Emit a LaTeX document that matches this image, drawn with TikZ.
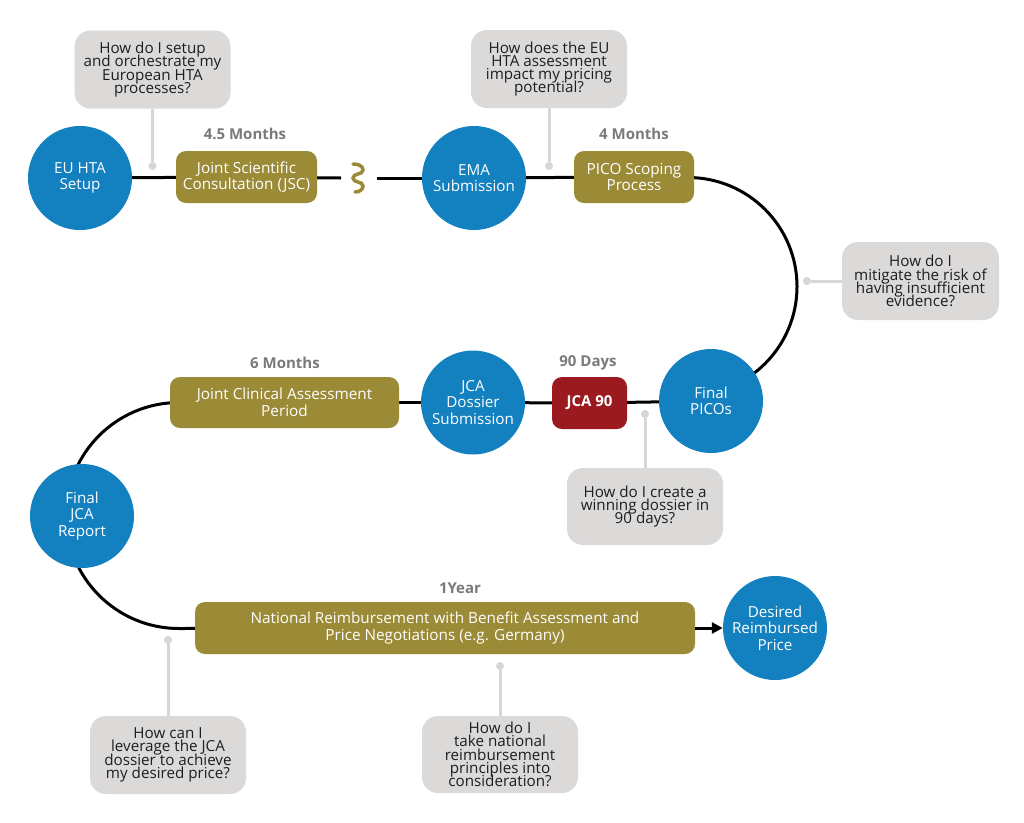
\documentclass[tikz,border=0pt]{standalone}
\usepackage{fontspec}
\setmainfont{Open Sans}
\usetikzlibrary{arrows.meta}
\definecolor{cblue}{HTML}{1380BF}
\definecolor{colive}{HTML}{9B8A36}
\definecolor{cred}{HTML}{9A1A1F}
\definecolor{cqbox}{HTML}{DCDAD9}
\definecolor{cstem}{HTML}{D6D6D6}
\definecolor{clabel}{HTML}{7A7A7A}
\definecolor{cqtext}{HTML}{1E1E1E}
\pgfdeclarelayer{bg}
\pgfsetlayers{bg,main}
\newcommand{\tightfont}[2]{\fontsize{#1}{#2}\selectfont\lineskiplimit=-100pt\relax}
\begin{document}
\begin{tikzpicture}[x=1pt,y=-1pt,
  milestone/.style={circle, fill=cblue, minimum size=104pt, inner sep=0pt, text=white, align=center, font=\tightfont{15.2}{16.5}},
  phase/.style={rectangle, rounded corners=10pt, fill=colive, text=white, align=center, inner sep=0pt, font=\tightfont{15.3}{16.8}},
  question/.style={rectangle, rounded corners=16pt, fill=cqbox, text=cqtext, align=center, inner sep=0pt, font=\tightfont{15.2}{13.3}},
  duration/.style={text=clabel, font=\bfseries\tightfont{15}{16}},
  flow/.style={line width=3pt, black},
  stem/.style={line width=3pt, cstem},
  dot/.style={circle, fill=cstem, minimum size=8pt, inner sep=0pt},
  ]
\useasboundingbox (0,0) rectangle (1024,822);

% milestones
\node[milestone] (setup) at (80,178) {EU HTA\\Setup};
\node[milestone] (ema) at (474,178) {EMA\\Submission};
\node[milestone] (picos) at (711,401) {Final\\PICOs};
\node[milestone] (dossier) at (473,402.5) {JCA\\Dossier\\Submission};
\node[milestone] (report) at (82,516) {Final\\JCA\\Report};
\node[milestone] (desired) at (775,628) {Desired\\Reimbursed\\Price};

% phases
\node[phase, minimum width=141pt, minimum height=52pt] (jsc) at (246.5,177) {Joint Scientific\\Consultation (JSC)};
\node[phase, minimum width=120pt, minimum height=52pt] (pico) at (634,177) {PICO Scoping\\Process};
\node[phase, minimum width=229pt, minimum height=51pt] (jcap) at (284.5,402.5) {Joint Clinical Assessment\\Period};
\node[phase, fill=cred, font=\bfseries\tightfont{15}{16.5}, minimum width=75pt, minimum height=52pt] (jca90) at (589.5,403) {JCA 90};
\node[phase, minimum width=500pt, minimum height=52pt] (national) at (445,628) {National Reimbursement with Benefit Assessment and\\Price Negotiations (e.g. Germany)};

% durations
\node[duration] (l1) at (245,134) {4.5 Months};
\node[duration] (l2) at (634,134) {4 Months};
\node[duration] (l3) at (285,363) {6 Months};
\node[duration] (l4) at (588,363) {90 Days};
\node[duration] (l5) at (460,588) {1Year};

% questions
\node[question, minimum width=156pt, minimum height=78pt] (q1) at (152.5,69.5) {How do I setup\\and orchestrate my\\European HTA\\processes?};
\node[question, minimum width=156pt, minimum height=78pt] (q2) at (549,69) {How does the EU\\HTA assessment\\impact my pricing\\potential?};
\node[question, minimum width=157pt, minimum height=78pt] (q3) at (920.5,281) {How do I\\mitigate the risk of\\having insufficient\\evidence?};
\node[question, minimum width=156pt, minimum height=77pt] (q4) at (645,506.5) {How do I create a\\winning dossier in\\90 days?};
\node[question, minimum width=156pt, minimum height=78pt] (q5) at (168,755) {How can I\\leverage the JCA\\dossier to achieve\\my desired price?};
\node[question, minimum width=156pt, minimum height=77pt] (q6) at (500,754.5) {How do I\\take national\\reimbursement\\principles into\\consideration?};

% stem dots
\node[dot] (d1) at (152.5,166) {};
\node[dot] (d2) at (549,166) {};
\node[dot] (d3) at (807,281) {};
\node[dot] (d4) at (645,414) {};
\node[dot] (d5) at (168,640) {};
\node[dot] (d6) at (500,666) {};

\coordinate (sq1) at (341,178);
\coordinate (sq2) at (377,178);

\begin{pgfonlayer}{bg}
  \fill[white] (0,0) rectangle (1024,822);
  \draw[flow] (setup.center) -- (jsc.center);
  \draw[flow] (jsc.center) -- (sq1);
  \draw[flow] (sq2) -- (ema.center);
  \draw[flow] (ema.center) -- (pico.center);
  \draw[flow] (pico.center) -- (688,177.5) arc[start angle=90, end angle=-90, radius=109pt] -- (picos.center);
  \draw[flow] (picos.center) -- (jca90.center);
  \draw[flow] (jca90.center) -- (dossier.center);
  \draw[flow] (dossier.center) -- (jcap.center);
  \draw[flow] (jcap.center) -- (179,402.5) arc[start angle=90, end angle=270, radius=113pt] -- (national.center);
  \draw[stem] (q1) -- (d1);
  \draw[stem] (q2) -- (d2);
  \draw[stem] (q3) -- (d3);
  \draw[stem] (q4) -- (d4);
  \draw[stem] (q5) -- (d5);
  \draw[stem] (q6) -- (d6);
\end{pgfonlayer}

\draw[flow, -{Triangle[length=11pt,width=11pt]}] (national.east) -- (desired.west);

% squiggle
\draw[colive, line width=3.5pt, line cap=round] (353,164) to[out=0,in=90] (363,170) to[out=-90,in=90] (353,178) to[out=-90,in=90] (363,186) to[out=-90,in=0] (355,192);
\end{tikzpicture}
\end{document}
